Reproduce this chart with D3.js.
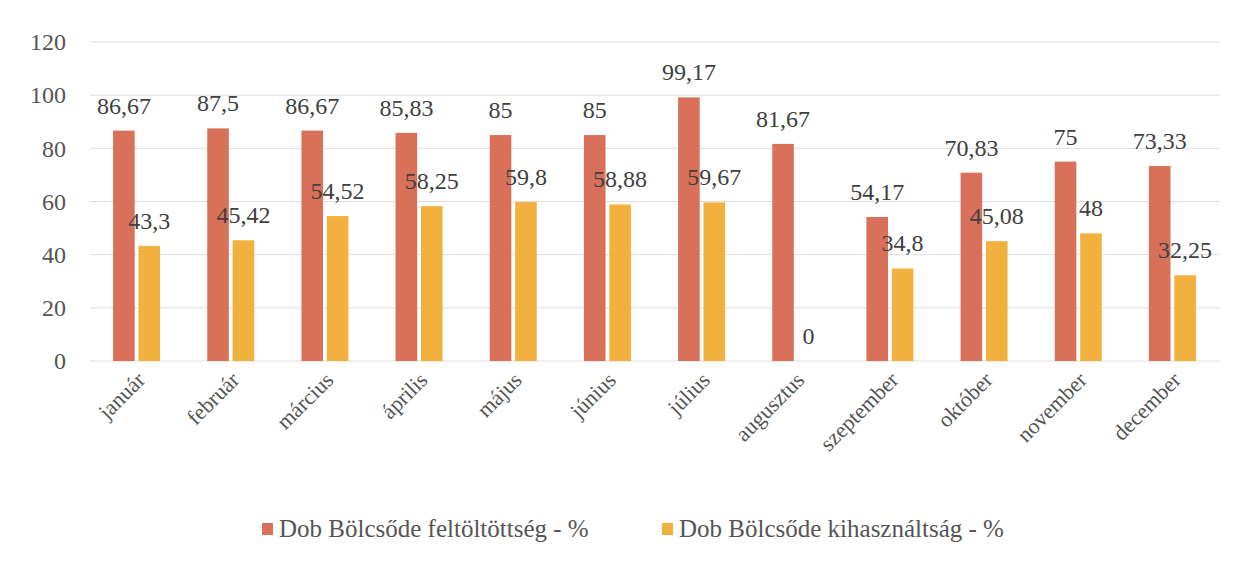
<!DOCTYPE html>
<html>
<head>
<meta charset="utf-8">
<script src="https://cdn.jsdelivr.net/npm/d3@7"></script>
<style>
  body { margin: 0; background: #fff; }
  svg text { font-family: 'Liberation Serif', serif; }
</style>
</head>
<body>
<div id="chart"></div>
<script>
'use strict';

/* Data */
var months = ['január', 'február', 'március', 'április', 'május', 'június',
  'július', 'augusztus', 'szeptember', 'október', 'november', 'december'];
var feltoltottseg = [86.67, 87.5, 86.67, 85.83, 85, 85, 99.17, 81.67, 54.17, 70.83, 75, 73.33];
var kihasznaltsag = [43.3, 45.42, 54.52, 58.25, 59.8, 58.88, 59.67, 0, 34.8, 45.08, 48, 32.25];
var seriesNames = ['Dob Bölcsőde feltöltöttség - %', 'Dob Bölcsőde kihasználtság - %'];
var yTicks = [0, 20, 40, 60, 80, 100, 120];

var colors = ['#d9705a', '#f2b03e'];
var font = "'Liberation Serif'";

var width = 1242, height = 562;
var svg = d3.select('#chart').append('svg')
  .attr('width', width)
  .attr('height', height);

var x = d3.scaleBand()
  .domain(months)
  .range([90, 1220]);

var x1 = d3.scaleBand()
  .domain([0, 1])
  .range([x.bandwidth() / 2 - 24, x.bandwidth() / 2 + 23])
  .paddingInner(0.15);

var y = d3.scaleLinear()
  .domain([0, 120])
  .range([361, 42]);

/* grid */
svg.append('g')
  .selectAll('line')
  .data(yTicks)
  .enter().append('line')
  .attr('x1', 90)
  .attr('x2', 1220)
  .attr('y1', function (d) { return y(d); })
  .attr('y2', function (d) { return y(d); })
  .style('stroke', '#dedede')
  .style('stroke-width', 1);

/* y axis labels */
var yAxis = d3.axisLeft(y).tickValues(yTicks).tickSize(0).tickPadding(0);
svg.append('g')
  .attr('transform', 'translate(66,0)')
  .call(yAxis)
  .call(function (g) { g.select('.domain').remove(); })
  .selectAll('text')
  .style('font-family', font)
  .style('font-size', '24px')
  .attr('fill', '#555');

/* x axis labels */
var xAxis = d3.axisBottom(x).tickSize(0).tickPadding(0);
svg.append('g')
  .attr('transform', 'translate(0,372)')
  .call(xAxis)
  .call(function (g) { g.select('.domain').remove(); })
  .selectAll('text')
  .style('font-family', font)
  .style('font-size', '22px')
  .attr('fill', '#555')
  .style('text-anchor', 'end')
  .attr('dy', '0.6em')
  .attr('dx', '0em')
  .attr('transform', 'rotate(-45)');

/* bars */
var series = [feltoltottseg, kihasznaltsag];
series.forEach(function (values, s) {
  var g = svg.append('g');

  g.selectAll('rect')
    .data(values)
    .enter().append('rect')
    .attr('x', function (d, i) { return x(months[i]) + x1(s); })
    .attr('width', x1.bandwidth())
    .attr('y', function (d) { return y(d); })
    .attr('height', function (d) { return y(0) - y(d); })
    .style('fill', colors[s]);

  g.selectAll('text')
    .data(values)
    .enter().append('text')
    .attr('x', function (d, i) { return x(months[i]) + x1(s) + x1.bandwidth() / 2; })
    .attr('y', function (d) { return y(d) - 17; })
    .attr('text-anchor', 'middle')
    .style('font-family', font)
    .style('font-size', '24px')
    .attr('fill', '#404040')
    .text(function (d) { return String(d).replace('.', ','); });
});

/* legend */
var legendX = [262, 662];
var legend = svg.append('g')
  .selectAll('g')
  .data(seriesNames)
  .enter().append('g')
  .attr('transform', function (d, i) { return 'translate(' + legendX[i] + ',523)'; });

legend.append('rect')
  .attr('width', 11)
  .attr('height', 12)
  .style('fill', function (d, i) { return colors[i]; });

legend.append('text')
  .attr('x', 17)
  .attr('y', 14)
  .style('font-family', font)
  .style('font-size', '25px')
  .attr('fill', '#555')
  .text(function (d) { return d; });
</script>
</body>
</html>
